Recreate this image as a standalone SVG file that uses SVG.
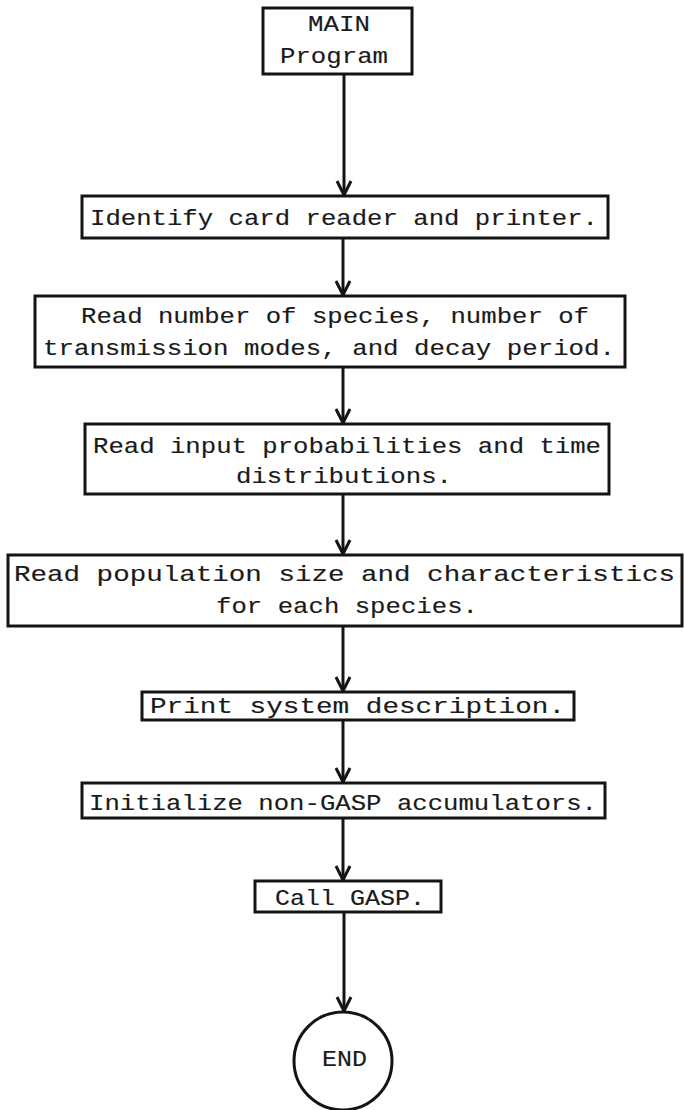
<svg xmlns="http://www.w3.org/2000/svg" width="684" height="1110" viewBox="0 0 684 1110">
  <defs>
    <style>
      .box { fill: #fff; stroke: #141414; stroke-width: 3; }
      .lbl { font-family: "Liberation Mono", "Courier New", monospace; font-size: 22px; fill: #1a1a1a; stroke: #1a1a1a; stroke-width: 0.15; }
      .edge { fill: none; stroke: #141414; stroke-width: 3; }
    </style>
    <!-- open V arrowhead, tip lands on the end of the line -->
    <marker id="vhead" markerUnits="userSpaceOnUse" viewBox="0 0 18 18" markerWidth="18" markerHeight="18" refX="15" refY="9" orient="auto">
      <path d="M1,2 L15,9 L1,16" fill="none" stroke="#141414" stroke-width="3"/>
    </marker>
  </defs>

  <rect width="684" height="1110" fill="#fff"/>

  <!-- connectors -->
  <g id="connectors">
    <line class="edge" x1="344" y1="74" x2="344" y2="195" marker-end="url(#vhead)"/>
    <line class="edge" x1="343" y1="238" x2="343" y2="295" marker-end="url(#vhead)"/>
    <line class="edge" x1="343" y1="367" x2="343" y2="423" marker-end="url(#vhead)"/>
    <line class="edge" x1="343" y1="494" x2="343" y2="554" marker-end="url(#vhead)"/>
    <line class="edge" x1="343" y1="626" x2="343" y2="691" marker-end="url(#vhead)"/>
    <line class="edge" x1="343" y1="720" x2="343" y2="782" marker-end="url(#vhead)"/>
    <line class="edge" x1="343" y1="818" x2="343" y2="880" marker-end="url(#vhead)"/>
    <line class="edge" x1="344" y1="912" x2="344" y2="1011" marker-end="url(#vhead)"/>
  </g>

  <!-- start block -->
  <g id="main">
    <rect class="box" x="263" y="8" width="149" height="66"/>
    <text class="lbl" x="308" y="31" textLength="62" lengthAdjust="spacingAndGlyphs">MAIN</text>
    <text class="lbl" x="280" y="63" textLength="108" lengthAdjust="spacingAndGlyphs">Program</text>
  </g>

  <g id="identify">
    <rect class="box" x="82" y="196" width="526" height="42"/>
    <text class="lbl" x="90" y="225" textLength="508" lengthAdjust="spacingAndGlyphs">Identify card reader and printer.</text>
  </g>

  <g id="read-counts">
    <rect class="box" x="35" y="296" width="590" height="71"/>
    <text class="lbl" x="81" y="323" textLength="508" lengthAdjust="spacingAndGlyphs">Read number of species, number of</text>
    <text class="lbl" x="43" y="355" textLength="572" lengthAdjust="spacingAndGlyphs">transmission modes, and decay period.</text>
  </g>

  <g id="read-probabilities">
    <rect class="box" x="85" y="424" width="524" height="70"/>
    <text class="lbl" x="93" y="453" textLength="508" lengthAdjust="spacingAndGlyphs">Read input probabilities and time</text>
    <text class="lbl" x="236" y="483" textLength="216" lengthAdjust="spacingAndGlyphs">distributions.</text>
  </g>

  <g id="read-population">
    <rect class="box" x="8" y="555" width="674" height="71"/>
    <text class="lbl" x="14" y="581" textLength="661" lengthAdjust="spacingAndGlyphs">Read population size and characteristics</text>
    <text class="lbl" x="216" y="613" textLength="262" lengthAdjust="spacingAndGlyphs">for each species.</text>
  </g>

  <g id="print-description">
    <rect class="box" x="142" y="692" width="432" height="28"/>
    <text class="lbl" x="150" y="713" textLength="415" lengthAdjust="spacingAndGlyphs">Print system description.</text>
  </g>

  <g id="initialize">
    <rect class="box" x="82" y="783" width="523" height="35"/>
    <text class="lbl" x="89" y="810" textLength="508" lengthAdjust="spacingAndGlyphs">Initialize non-GASP accumulators.</text>
  </g>

  <g id="call-gasp">
    <rect class="box" x="255" y="881" width="186" height="31"/>
    <text class="lbl" x="275" y="905" textLength="150" lengthAdjust="spacingAndGlyphs">Call GASP.</text>
  </g>

  <g id="end">
    <circle class="box" cx="343" cy="1061" r="49"/>
    <text class="lbl" x="322" y="1066" textLength="45" lengthAdjust="spacingAndGlyphs">END</text>
  </g>
</svg>
